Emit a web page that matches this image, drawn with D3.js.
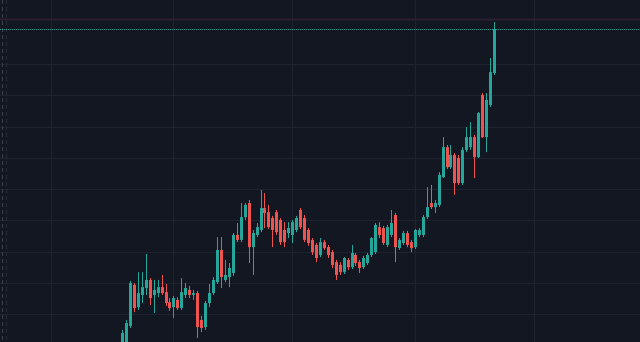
<!DOCTYPE html>
<html>
<head>
<meta charset="utf-8">
<script src="https://cdn.jsdelivr.net/npm/d3@7"></script>
<style>
  html, body { margin: 0; padding: 0; background: #131722; overflow: hidden; }
  svg { display: block; }
</style>
</head>
<body>
<svg width="640" height="342"></svg>
<script>
// daily candles
var opens = [88.5, 91.0, 96.2, 109.3, 102.2, 106.1, 108.3, 110.9, 106.1, 106.7,
  108.6, 107.0, 103.8, 102.2, 104.5, 101.9, 106.1, 107.7, 106.1, 106.7,
  98.1, 95.8, 103.5, 106.7, 110.2, 120.5, 110.9, 111.8, 113.1, 125.3,
  123.7, 131.0, 135.5, 121.4, 125.3, 126.9, 133.9, 132.6, 130.7, 132.6,
  130.1, 126.9, 125.9, 125.3, 126.9, 133.3, 130.7, 126.9, 123.7, 122.1,
  118.9, 123.0, 121.4, 119.8, 116.6, 115.7, 113.4, 117.3, 115.0, 118.9,
  116.6, 115.0, 116.3, 118.9, 119.8, 127.8, 127.5, 122.1, 125.3, 131.7,
  121.1, 122.7, 125.9, 123.0, 121.4, 125.3, 125.3, 131.0, 135.5, 134.2,
  134.9, 143.8, 153.4, 147.0, 150.9, 149.9, 141.9, 152.5, 153.4, 156.6,
  150.2, 170.1, 156.6, 166.9, 177.1];
var highs = [94.9, 98.1, 110.6, 109.9, 113.4, 113.4, 119.2, 111.5, 110.9, 110.9,
  112.5, 109.6, 105.1, 105.8, 105.4, 111.5, 109.9, 109.0, 107.7, 107.4,
  99.4, 104.2, 109.6, 111.8, 124.6, 124.6, 117.3, 116.3, 125.9, 129.1,
  135.5, 135.5, 136.5, 126.9, 129.1, 139.7, 138.7, 134.9, 131.4, 133.3,
  130.7, 129.4, 129.4, 130.1, 131.4, 133.9, 131.7, 127.5, 124.3, 122.7,
  124.3, 123.7, 122.1, 120.5, 117.3, 116.6, 118.2, 117.9, 122.1, 119.5,
  117.3, 118.6, 119.5, 124.6, 129.1, 129.4, 128.2, 128.5, 133.3, 132.3,
  124.3, 126.6, 126.6, 123.7, 127.2, 127.5, 131.7, 140.6, 141.3, 136.5,
  145.4, 156.6, 154.1, 154.1, 151.5, 150.9, 153.4, 159.8, 161.4, 157.3,
  164.6, 170.7, 170.7, 181.9, 193.4];
var lows = [87.8, 90.4, 95.5, 100.6, 101.3, 103.5, 106.1, 102.9, 100.3, 105.4,
  106.1, 102.6, 101.0, 98.7, 101.3, 101.3, 105.1, 105.1, 104.5, 92.3,
  94.2, 94.9, 102.2, 106.1, 109.6, 108.3, 110.2, 108.6, 112.2, 123.0,
  123.0, 130.1, 116.3, 112.5, 124.6, 126.2, 127.5, 127.2, 121.4, 125.3,
  122.1, 121.4, 124.3, 122.7, 126.2, 127.2, 123.0, 121.8, 118.9, 116.6,
  118.2, 120.5, 117.9, 114.7, 110.9, 112.5, 112.8, 114.1, 114.4, 115.4,
  113.1, 114.4, 115.7, 118.2, 119.2, 124.3, 122.1, 121.4, 124.6, 116.6,
  120.5, 122.1, 121.4, 119.8, 120.8, 124.6, 124.6, 130.4, 133.6, 132.3,
  134.2, 143.5, 146.4, 146.4, 138.1, 141.3, 141.3, 151.8, 152.5, 143.5,
  149.9, 156.3, 151.8, 166.2, 176.5];
var closes = [93.9, 97.1, 109.9, 101.9, 106.7, 108.6, 110.9, 105.1, 107.7, 108.6,
  106.7, 103.5, 101.9, 105.1, 101.9, 107.0, 108.3, 106.1, 106.7, 95.8,
  95.5, 103.5, 106.7, 110.9, 120.5, 111.8, 112.5, 114.7, 125.3, 123.7,
  131.0, 134.9, 121.4, 125.9, 127.8, 133.9, 132.3, 127.8, 126.9, 126.2,
  123.0, 123.0, 127.5, 129.4, 130.7, 127.8, 123.7, 122.7, 119.8, 117.9,
  123.0, 121.1, 118.9, 115.7, 112.5, 113.4, 117.9, 115.0, 119.5, 116.3,
  114.7, 117.9, 118.9, 124.3, 128.5, 125.3, 122.7, 127.8, 129.1, 121.4,
  123.7, 125.9, 122.1, 121.1, 126.9, 126.9, 131.0, 134.2, 134.2, 135.5,
  144.5, 153.4, 147.0, 150.9, 141.9, 141.9, 152.5, 156.6, 156.6, 150.2,
  164.3, 156.6, 168.5, 177.4, 191.2];

var priceTicks = [100, 110, 120, 130, 140, 150, 160, 170, 180];
var monthTicks = [-18, 13, 43, 74, 104];   // month starts, in candle index
var highLine = 194.5;

var svg = d3.select("svg"),
	width = +svg.attr("width"),
	height = +svg.attr("height");

var upColor = "#26a69a",
	downColor = "#ef5350";

var x = d3.scaleLinear().domain([0, opens.length - 1]).range([122, 494]);
var y = d3.scaleLinear().domain([100, 180]).range([314, 64]);

svg.append("rect")
	.attr("width", width)
	.attr("height", height)
	.style("fill", "#131722");

// grid
var grid = svg.append("g").attr("class", "grid");

grid.selectAll(".hgrid")
	.data(priceTicks)
	.enter().append("line")
	.attr("class", "hgrid")
	.attr("x1", 0)
	.attr("x2", width)
	.attr("y1", function(d) { return Math.round(y(d)) + 0.5; })
	.attr("y2", function(d) { return Math.round(y(d)) + 0.5; })
	.style("stroke", "#1e2330")
	.style("stroke-width", 1);

grid.selectAll(".vgrid")
	.data(monthTicks)
	.enter().append("line")
	.attr("class", "vgrid")
	.attr("x1", function(d) { return Math.round(x(d)) + 0.5; })
	.attr("x2", function(d) { return Math.round(x(d)) + 0.5; })
	.attr("y1", 0)
	.attr("y2", height)
	.style("stroke", "#1e2330")
	.style("stroke-width", 1);

// dashed marker at the left edge
svg.append("line")
	.attr("x1", 2.5).attr("x2", 2.5)
	.attr("y1", 0).attr("y2", height)
	.style("stroke", "#3b404d")
	.style("stroke-dasharray", "4,3");
svg.append("line")
	.attr("x1", 6.5).attr("x2", 6.5)
	.attr("y1", 0).attr("y2", height)
	.style("stroke", "#272c38")
	.style("stroke-dasharray", "4,3");

// faint high line
svg.append("line")
	.attr("x1", 0).attr("x2", width)
	.attr("y1", Math.round(y(highLine)) + 0.5)
	.attr("y2", Math.round(y(highLine)) + 0.5)
	.style("stroke", "#2c1f31")
	.style("stroke-width", 2);

var data = opens.map(function(o, i) {
	return {i: i, open: o, high: highs[i], low: lows[i], close: closes[i]};
});

var candles = svg.append("g").attr("class", "candles");

candles.selectAll(".wick")
	.data(data)
	.enter().append("line")
	.attr("class", "wick")
	.attr("x1", function(d) { return Math.round(x(d.i)) + 0.5; })
	.attr("x2", function(d) { return Math.round(x(d.i)) + 0.5; })
	.attr("y1", function(d) { return y(d.high); })
	.attr("y2", function(d) { return y(d.low); })
	.style("stroke", function(d) { return d.close >= d.open ? upColor : downColor; })
	.style("stroke-width", 1);

candles.selectAll(".body")
	.data(data)
	.enter().append("rect")
	.attr("class", "body")
	.attr("x", function(d) { return Math.round(x(d.i)) - 1; })
	.attr("y", function(d) { return y(Math.max(d.open, d.close)); })
	.attr("width", 3)
	.attr("height", function(d) { return Math.max(1, Math.abs(y(d.open) - y(d.close))); })
	.style("fill", function(d) { return d.close >= d.open ? upColor : downColor; });

// last price line
var last = closes[closes.length - 1];
svg.append("line")
	.attr("x1", 0).attr("x2", width)
	.attr("y1", Math.round(y(last)) + 0.5)
	.attr("y2", Math.round(y(last)) + 0.5)
	.style("stroke", upColor)
	.style("stroke-width", 1)
	.style("stroke-dasharray", "1,1");
</script>
</body>
</html>
